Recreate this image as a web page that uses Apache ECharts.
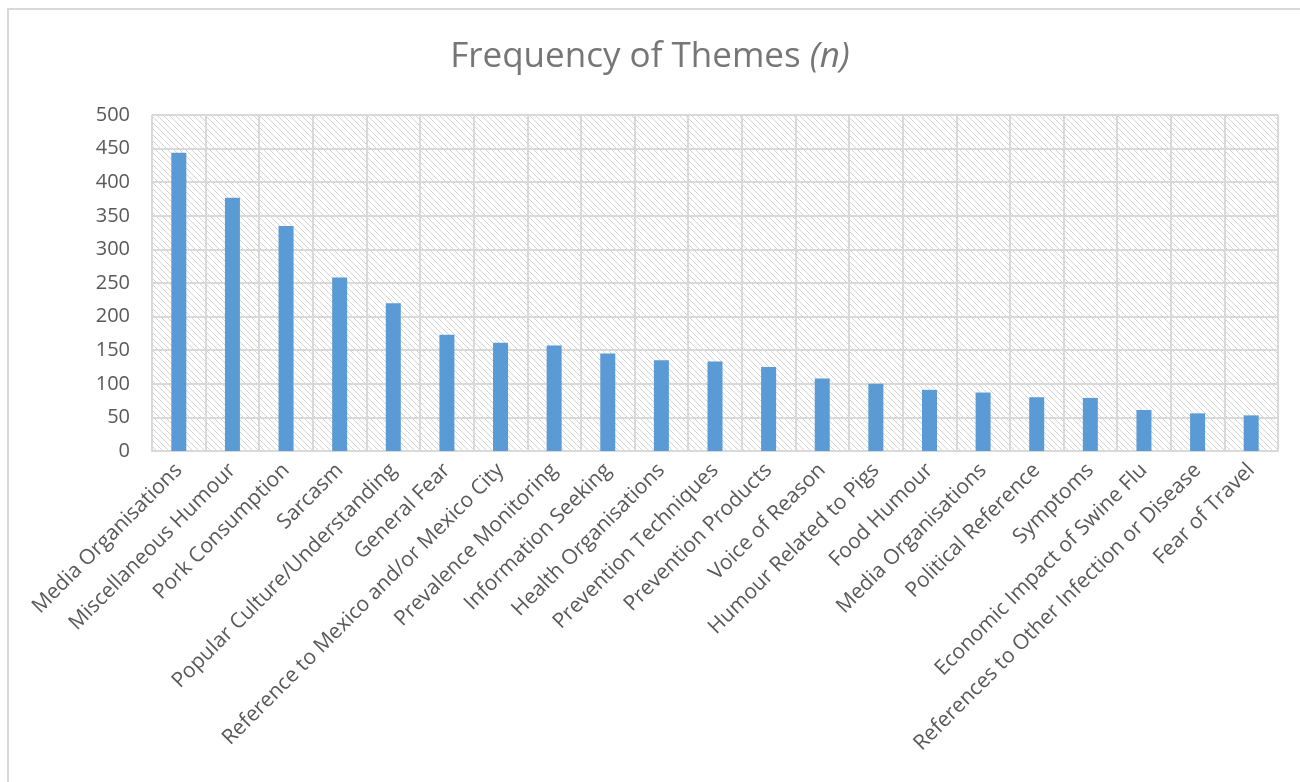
<!DOCTYPE html>
<html lang="en">
<head>
  <meta charset="UTF-8">
  <title>Frequency of Themes</title>
  <style>
    html, body { margin: 0; padding: 0; background: #fff; }
  </style>
</head>
<body>
  <script src="https://cdn.jsdelivr.net/npm/echarts@6/dist/echarts.min.js"></script>
  <div id="main" style="width: 1300px;height:782px;"></div>
  <script type="text/javascript">
      // data
      var themes = [
        'Media Organisations', 'Miscellaneous Humour', 'Pork Consumption', 'Sarcasm',
        'Popular Culture/Understanding', 'General Fear', 'Reference to Mexico and/or Mexico City',
        'Prevalence Monitoring', 'Information Seeking', 'Health Organisations',
        'Prevention Techniques', 'Prevention Products', 'Voice of Reason',
        'Humour Related to Pigs', 'Food Humour', 'Media Organisations',
        'Political Reference', 'Symptoms', 'Economic Impact of Swine Flu',
        'References to Other Infection or Disease', 'Fear of Travel'
      ];
      var counts = [444, 377, 335, 258, 220, 173, 161, 157, 145, 135, 133, 125, 108, 100, 91, 87, 80, 79, 61, 56, 53];

      var fontName = '"Open Sans", sans-serif';

      // hatched plot background (diagonal lines)
      var tile = document.createElement('canvas');
      tile.width = 6;
      tile.height = 6;
      var ctx = tile.getContext('2d');
      ctx.fillStyle = '#ffffff';
      ctx.fillRect(0, 0, 6, 6);
      ctx.strokeStyle = '#d4d4d4';
      ctx.lineWidth = 1;
      ctx.beginPath();
      ctx.moveTo(-1, -1); ctx.lineTo(7, 7);
      ctx.moveTo(-1, 5); ctx.lineTo(1, 7);
      ctx.moveTo(5, -1); ctx.lineTo(7, 1);
      ctx.stroke();

      var myChart = echarts.init(document.getElementById('main'));

      var option = {
        backgroundColor: '#ffffff',
        animation: false,
        title: {
          text: '{a|Frequency of Themes }{b|(n)}',
          left: 'center',
          top: 35,
          textStyle: {
            rich: {
              a: { fontFamily: fontName, fontSize: 35, fontWeight: 'normal', color: '#767676' },
              b: { fontFamily: fontName, fontSize: 35, fontWeight: 'normal', color: '#767676', fontStyle: 'italic' }
            }
          }
        },
        graphic: [{
          type: 'rect',
          shape: { x: 8, y: 9, width: 1300, height: 800 },
          style: { fill: null, stroke: '#d9d9d9', lineWidth: 2 },
          silent: true
        }],
        grid: {
          left: 152,
          right: 22,
          top: 115,
          bottom: 331,
          show: true,
          borderWidth: 0,
          backgroundColor: { image: tile, repeat: 'repeat' }
        },
        xAxis: {
          type: 'category',
          data: themes,
          axisLine: { lineStyle: { color: '#d9d9d9', width: 2 } },
          axisTick: { show: false },
          splitLine: { show: true, interval: 0, lineStyle: { color: '#d9d9d9', width: 2 } },
          axisLabel: {
            interval: 0,
            rotate: 45,
            margin: 16,
            color: '#595959',
            fontFamily: fontName,
            fontSize: 21
          }
        },
        yAxis: {
          type: 'value',
          min: 0,
          max: 500,
          interval: 50,
          axisLine: { show: false },
          axisTick: { show: false },
          splitLine: { lineStyle: { color: '#d9d9d9', width: 2 } },
          axisLabel: {
            margin: 22,
            color: '#595959',
            fontFamily: fontName,
            fontSize: 20
          }
        },
        series: [{
          type: 'bar',
          data: counts,
          barWidth: 15,
          itemStyle: { color: '#5b9bd5' }
        }]
      };

      myChart.setOption(option);
  </script>
</body>
</html>
